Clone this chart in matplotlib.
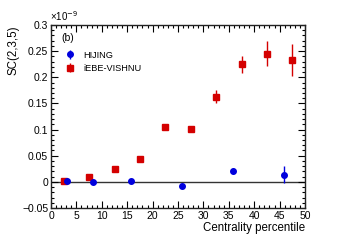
import matplotlib
matplotlib.use("Agg")
import matplotlib.pyplot as plt
from matplotlib.ticker import MultipleLocator, FuncFormatter

plt.rcParams['font.family'] = ['Liberation Sans', 'DejaVu Sans']

# Data (units of 1e-9)
hij_x = [3.2, 8.3, 15.7, 25.8, 35.8, 45.8]
hij_y = [0.002, -0.001, 0.002, -0.007, 0.021, 0.014]
hij_e = [0.002, 0.002, 0.002, 0.003, 0.006, 0.017]

ebe_x = [2.5, 7.5, 12.5, 17.5, 22.5, 27.5, 32.5, 37.5, 42.5, 47.5]
ebe_y = [0.002, 0.010, 0.024, 0.044, 0.105, 0.101, 0.163, 0.225, 0.245, 0.233]
ebe_e = [0.001, 0.001, 0.002, 0.002, 0.004, 0.004, 0.012, 0.016, 0.024, 0.030]

fig = plt.figure(figsize=(3.39, 2.45), dpi=100)
ax = fig.add_axes([51/339, 1-208/245, (305-51)/339, (208-25)/245])

ax.axhline(0, color='#333333', lw=1.0, zorder=1)
ax.errorbar(ebe_x, ebe_y, yerr=ebe_e, fmt='s', color='#d40000', ms=4,
            elinewidth=1.0, capsize=0, label='iEBE-VISHNU', zorder=3)
ax.errorbar(hij_x, hij_y, yerr=hij_e, fmt='o', color='#0000dd', ms=4,
            elinewidth=1.0, capsize=0, label='HIJING', zorder=3)

ax.set_xlim(0, 50)
ax.set_ylim(-0.05, 0.3)
ax.xaxis.set_major_locator(MultipleLocator(5))
ax.xaxis.set_minor_locator(MultipleLocator(1))
ax.yaxis.set_major_locator(MultipleLocator(0.05))
ax.yaxis.set_minor_locator(MultipleLocator(0.01))

def yfmt(v, p):
    s = ('%.2f' % v).rstrip('0').rstrip('.')
    if s in ('-0', '0'):
        return '0'
    return s.replace('-', '\u2212')
ax.yaxis.set_major_formatter(FuncFormatter(yfmt))

ax.tick_params(which='both', direction='in', top=True, right=True,
               labelsize=7.5, width=0.8, pad=2)
ax.tick_params(which='major', length=5)
ax.tick_params(which='minor', length=2.5)
for s in ax.spines.values():
    s.set_linewidth(1.0)
    s.set_color('#222222')

ax.set_xlabel('Centrality percentile', fontsize=8.3, loc='right', labelpad=1)
ax.set_ylabel('SC(2,3,5)', fontsize=8.3, loc='top', labelpad=2)

fig.text(50/339, 1-23/245, '\u00d710$^{-9}$', fontsize=7, ha='left', va='bottom')
ax.text(2.0, 0.275, '(b)', fontsize=7.5, ha='left', va='center')

handles, labels = ax.get_legend_handles_labels()
leg = ax.legend(handles[::-1], labels[::-1], loc='upper left',
                bbox_to_anchor=(0.035, 0.88), frameon=False, fontsize=6.6,
                handlelength=1.3, handletextpad=0.9, labelspacing=0.45,
                borderaxespad=0)

fig.savefig('out.png', dpi=100)
